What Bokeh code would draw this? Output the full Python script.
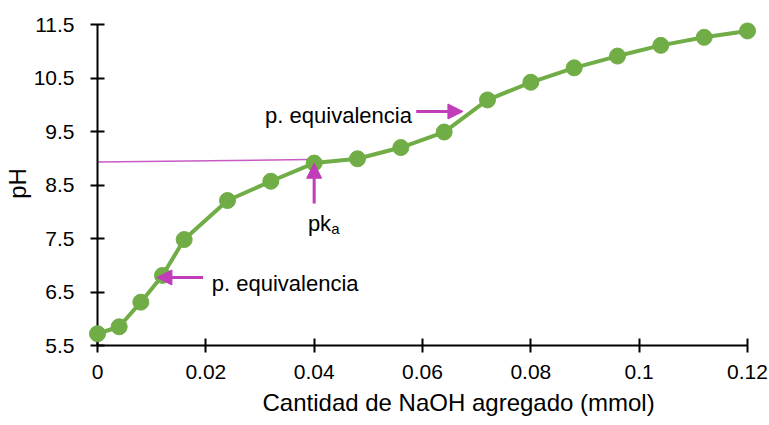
import math
from bokeh.plotting import figure
from bokeh.models import LinearAxis, FixedTicker, Range1d, Label, Arrow, NormalHead, Title
from bokeh.embed import file_html
from bokeh.resources import INLINE

# ---- data ----
naoh_mmol = [0, 0.004, 0.008, 0.012, 0.016, 0.024, 0.032, 0.04, 0.048, 0.056,
             0.064, 0.072, 0.08, 0.088, 0.096, 0.104, 0.112, 0.12]
ph = [5.72, 5.85, 6.31, 6.81, 7.48, 8.21, 8.57, 8.91, 8.99, 9.20,
      9.49, 10.09, 10.42, 10.69, 10.91, 11.11, 11.26, 11.38]

x_ticks = [0, 0.02, 0.04, 0.06, 0.08, 0.1, 0.12]
x_tick_labels = ["0", "0.02", "0.04", "0.06", "0.08", "0.1", "0.12"]
y_ticks = [5.5, 6.5, 7.5, 8.5, 9.5, 10.5, 11.5]
y_tick_labels = ["5.5", "6.5", "7.5", "8.5", "9.5", "10.5", "11.5"]

x_title = "Cantidad de NaOH agregado (mmol)"
y_title = "pH"
eq_label = "p. equivalencia"
pka_main, pka_sub = "pk", "a"

# ---- layout ----
GREEN = "#70AD47"
PINK = "#C03CB8"
FONT = "Liberation Sans"

W, H = 769, 425
B_LEFT, B_RIGHT, B_TOP, B_BOTTOM = 97, 22, 21, 80
frame_h = H - B_TOP - B_BOTTOM
pad_t = 3.0

x0, x1 = x_ticks[0], x_ticks[-1]
y0, y1 = y_ticks[0], y_ticks[-1]
sy = (frame_h - pad_t) / (y1 - y0)

p = figure(width=W, height=H,
           x_range=Range1d(x0, x1), y_range=Range1d(y0, y1 + pad_t / sy),
           x_axis_type=None, y_axis_type=None,
           toolbar_location=None, output_backend="svg",
           min_border_left=B_LEFT, min_border_right=B_RIGHT,
           min_border_top=B_TOP, min_border_bottom=B_BOTTOM)
p.outline_line_color = None
p.background_fill_color = "white"
p.border_fill_color = "white"

axis_style = dict(axis_line_color="black", axis_line_width=2,
                  major_tick_line_color="black", major_tick_line_width=2,
                  major_tick_in=7, major_tick_out=7,
                  minor_tick_in=0, minor_tick_out=0,
                  major_label_text_font=FONT, major_label_text_font_size="21px",
                  major_label_text_color="black",
                  axis_label_text_font=FONT, axis_label_text_font_size="24px",
                  axis_label_text_font_style="normal", axis_label_text_color="black")

xaxis = LinearAxis(bounds=(x0, x1), ticker=FixedTicker(ticks=x_ticks),
                   major_label_overrides=dict(zip(x_ticks, x_tick_labels)),
                   major_label_standoff=12, **axis_style)
yaxis = LinearAxis(bounds=(y0, y1), ticker=FixedTicker(ticks=y_ticks),
                   major_label_overrides=dict(zip(y_ticks, y_tick_labels)),
                   major_label_standoff=16, axis_label=y_title,
                   axis_label_standoff=0, **axis_style)
p.add_layout(xaxis, "below")
p.add_layout(yaxis, "left")

# x-axis title, offset to the right as in the reference
p.add_layout(Title(text=x_title, align="left", offset=165, standoff=10,
                   text_font=FONT, text_font_size="24px", text_font_style="normal",
                   text_color="black"), "below")

# pKa reference line
p.segment(x0=[0], y0=[8.93], x1=[0.039], y1=[8.975],
          line_color=PINK, line_width=1.5, line_alpha=0.85)

# titration curve (overlay level so edge markers are not cut by the frame)
p.line(naoh_mmol, ph, line_color=GREEN, line_width=4, level="overlay")
p.scatter(naoh_mmol, ph, size=16, fill_color=GREEN, line_color=GREEN, level="overlay")

# arrows
def arrow(xs, ys, xe, ye):
    p.add_layout(Arrow(end=NormalHead(size=15, fill_color=PINK, line_color=PINK, line_width=1),
                       x_start=xs, y_start=ys, x_end=xe, y_end=ye,
                       line_color=PINK, line_width=3, level="overlay"))

arrow(0.0195, 6.771, 0.01097, 6.771)
arrow(0.05884, 9.874, 0.06746, 9.874)
arrow(0.04, 8.154, 0.04, 8.907)

def label(x, y, text, size, align="left"):
    p.add_layout(Label(x=x, y=y, text=text, text_font=FONT, text_font_size=size,
                       text_color="black", text_align=align,
                       text_baseline="alphabetic"))

label(0.0211, 6.664, eq_label, "22px")
label(0.05804, 9.799, eq_label, "22px", align="right")
label(0.03884, 7.775, pka_main, "22px")
label(0.04314, 7.687, pka_sub, "15px")

open("out.html", "w").write(file_html(p, INLINE))
